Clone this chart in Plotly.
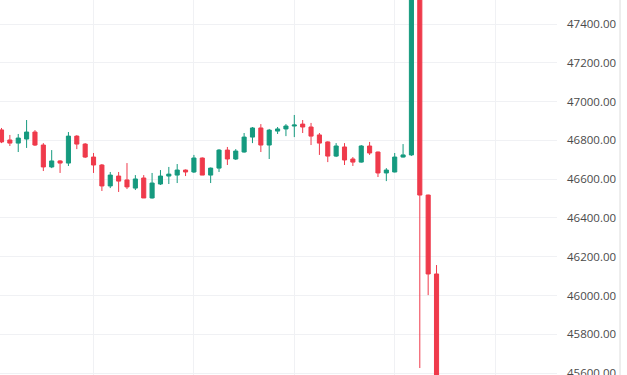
import plotly.graph_objects as go

# candle index (5-min bars)
idx = list(range(53))

opens = [46854, 46802, 46786, 46807, 46843, 46776, 46663, 46694, 46683, 46822,
         46781, 46714, 46673, 46565, 46616, 46596, 46554, 46606, 46503, 46575,
         46616, 46621, 46647, 46637, 46709, 46621, 46657, 46750, 46704, 46740,
         46817, 46864, 46776, 46848, 46859, 46874, 46884, 46869, 46828, 46792,
         46719, 46766, 46704, 46688, 46771, 46740, 46632, 46637, 46714, 46725,
         47700, 46518, 46111]
highs = [46864, 46828, 46833, 46905, 46853, 46786, 46750, 46698, 46843, 46827,
         46786, 46735, 46678, 46637, 46637, 46683, 46621, 46621, 46632, 46647,
         46663, 46678, 46650, 46725, 46712, 46660, 46755, 46766, 46755, 46838,
         46869, 46884, 46859, 46869, 46884, 46931, 46905, 46890, 46838, 46795,
         46786, 46786, 46714, 46776, 46792, 46742, 46657, 46735, 46781, 47720,
         47720, 46520, 46157]
lows = [46786, 46771, 46740, 46761, 46771, 46642, 46657, 46632, 46668, 46755,
        46709, 46632, 46539, 46554, 46534, 46549, 46544, 46503, 46500, 46570,
        46575, 46580, 46616, 46632, 46621, 46580, 46637, 46673, 46699, 46737,
        46786, 46740, 46704, 46833, 46822, 46817, 46838, 46776, 46725, 46688,
        46714, 46673, 46668, 46685, 46725, 46611, 46590, 46635, 46712, 46720,
        45626, 46002, 45400]
closes = [46792, 46786, 46812, 46843, 46776, 46663, 46694, 46683, 46822, 46781,
          46714, 46673, 46565, 46621, 46590, 46560, 46601, 46503, 46580, 46616,
          46626, 46647, 46637, 46709, 46621, 46657, 46750, 46704, 46745, 46817,
          46864, 46776, 46853, 46859, 46874, 46879, 46869, 46822, 46786, 46719,
          46771, 46699, 46688, 46771, 46735, 46632, 46647, 46714, 46725, 47700,
          46518, 46111, 45450]

price_ticks = [45600, 45800, 46000, 46200, 46400, 46600, 46800, 47000, 47200, 47400]

UP = "#159a7f"
DOWN = "#ef3a4b"

fig = go.Figure(go.Candlestick(
    x=idx, open=opens, high=highs, low=lows, close=closes,
    increasing=dict(line=dict(color=UP, width=1), fillcolor=UP),
    decreasing=dict(line=dict(color=DOWN, width=1), fillcolor=DOWN),
    whiskerwidth=0,
    hoverinfo="skip",
))

fig.update_layout(
    width=627, height=375,
    margin=dict(l=0, r=7, t=0, b=0, autoexpand=False),
    paper_bgcolor="white", plot_bgcolor="white",
    showlegend=False,
    xaxis=dict(
        domain=[0, 557 / 620],
        range=[-0.18, 66.4], rangeslider=dict(visible=False),
        showticklabels=False, showgrid=True, gridcolor="#f0f1f4", gridwidth=1,
        tick0=11, dtick=12, zeroline=False, showline=False, ticks="",
        automargin=False,
    ),
    yaxis=dict(
        side="right", range=[45590, 47524],
        tickvals=price_ticks, tickformat=".2f",
        showgrid=True, gridcolor="#f0f1f4", gridwidth=1,
        zeroline=False, showline=False, ticks="",
        ticklabelstandoff=9, ticklabeloverflow="allow", automargin=False,
        tickfont=dict(family="Open Sans, sans-serif", size=11.5, color="#4a4a4a"),
    ),
    shapes=[dict(type="line", xref="paper", yref="paper", layer="above",
                 x0=1, x1=1, y0=0, y1=1,
                 line=dict(color="#dcdcdc", width=1))],
)

fig.write_html("out.html", config={"displayModeBar": False})
